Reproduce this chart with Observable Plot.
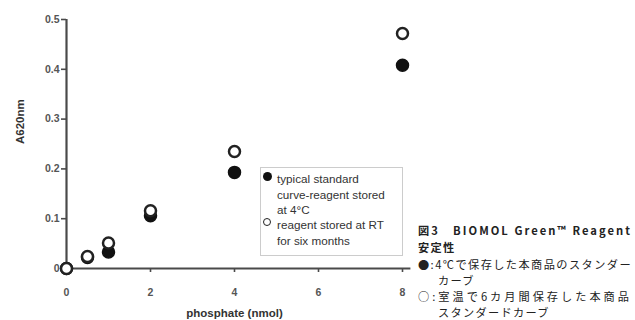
<!DOCTYPE html>
<html><head><meta charset="utf-8">
<script src="https://cdn.jsdelivr.net/npm/d3@7"></script>
<script src="https://cdn.jsdelivr.net/npm/@observablehq/plot@0.6"></script>
<style>
body{margin:0;background:#fff;}
#wrap{position:relative;width:635px;height:320px;overflow:hidden;}
#legend{position:absolute;left:260px;top:167px;width:143px;height:89px;border:1px solid #ccc;box-sizing:border-box;}
.lt{position:absolute;white-space:nowrap;font-family:"Liberation Sans",Arial,sans-serif;font-size:11.7px;color:#333;line-height:11px;height:11px;}
.lm{position:absolute;width:8px;height:8px;border-radius:50%;box-sizing:border-box;}
.ct{position:absolute;white-space:nowrap;font-family:"Noto Sans CJK JP","Noto Sans",sans-serif;font-size:11.2px;color:#222;line-height:14px;height:14px;}
</style></head>
<body><div id="wrap"><div id="chart"></div>
<div id="legend"></div>
</div>
<script>
const xVals = [0, 0.5, 1, 2, 4, 8];
const stored4C = [0, 0.022, 0.033, 0.106, 0.193, 0.408];
const storedRT = [0, 0.024, 0.051, 0.116, 0.235, 0.472];
const xTicks = [0, 2, 4, 6, 8];
const yTicks = [0, 0.1, 0.2, 0.3, 0.4, 0.5];
const legendLabels = [["typical standard","curve-reagent stored","at 4°C"],["reagent stored at RT","for six months"]];
const captionLines = ["図3　BIOMOL Green™ Reagent","安定性","●:4℃で保存した本商品のスタンダー","カーブ","○:室温で6カ月間保存した本商品","スタンダードカーブ"];

const filled = xVals.map((x,i)=>({x, y: stored4C[i]}));
const open = xVals.map((x,i)=>({x, y: storedRT[i]}));
const axisColor = "#4a4a4a";
const font = "'Liberation Sans', Arial, sans-serif";

const chart = Plot.plot({
  width: 635, height: 320,
  marginLeft: 66, marginRight: 233, marginTop: 19, marginBottom: 52,
  style: {fontFamily: font, background: "white"},
  x: {domain: [0, 8]},
  y: {domain: [0, 0.5]},
  marks: [
    Plot.axisY({ticks: yTicks, tickSize: 5, tickPadding: 2, stroke: axisColor, strokeWidth: 1.6,
      tickFormat: d => d === 0 ? "0" : d.toFixed(1), fontSize: 10.5, fontWeight: "bold", fill: "#555", label: null}),
    Plot.axisX({ticks: xTicks, tickSize: 4, tickPadding: 16, stroke: axisColor, strokeWidth: 1.6,
      fontSize: 10.5, fontWeight: "bold", fill: "#555", label: null}),
    Plot.ruleX([0], {y1: 0, y2: 0.5, stroke: axisColor, strokeWidth: 2.2}),
    Plot.ruleY([0], {x1: 0, x2: 8.2, stroke: axisColor, strokeWidth: 2.2}),
    Plot.text(["A620nm"], {frameAnchor: "left", dx: -46, rotate: -90, fontSize: 11.5, fontWeight: "bold", fill: "#333"}),
    Plot.text(["phosphate (nmol)"], {x: 4, y: 0, dy: 45, fontSize: 11.5, fontWeight: "bold", fill: "#333"}),
    Plot.dot(filled, {x: "x", y: "y", r: 6, fill: "#111", stroke: "#111"}),
    Plot.dot(open, {x: "x", y: "y", r: 5.5, fill: "white", stroke: "#222", strokeWidth: 2.5})
  ]
});
document.getElementById("chart").appendChild(chart);

const wrap = document.getElementById("wrap");
function place(cls, text, left, centerY, lh) {
  const d = document.createElement("div");
  d.className = cls;
  d.textContent = text;
  d.style.left = left + "px";
  d.style.top = (centerY - lh / 2) + "px";
  wrap.appendChild(d);
  return d;
}
function marker(cx, cy, isFilled) {
  const m = document.createElement("div");
  m.className = "lm";
  const s = isFilled ? 9 : 8;
  m.style.width = s + "px"; m.style.height = s + "px";
  m.style.left = (cx - s / 2) + "px";
  m.style.top = (cy - s / 2) + "px";
  if (isFilled) m.style.background = "#111";
  else { m.style.border = "1.6px solid #222"; m.style.background = "#fff"; }
  wrap.appendChild(m);
}

// legend
const legendCenters = [[178, 194.5, 209.5], [224.5, 240.5]];
const markerCenters = [176, 222];
legendLabels.forEach((lines, k) => {
  marker(267, markerCenters[k], k === 0);
  lines.forEach((t, j) => place("lt", t, 277, legendCenters[k][j], 11));
});

// caption
const capCenters = [229.5, 246.5, 263.5, 279.5, 295.5, 311.5];
const capLeft = [418, 418, 418, 438, 418, 438];
const stretchTo = [214, null, 214, null, 214, null];
captionLines.forEach((t, i) => {
  const d = place("ct", t, capLeft[i], capCenters[i], 14);
  if (i < 2) d.style.fontWeight = "bold";
  if (i === 1 || i === 3 || i === 5) d.style.letterSpacing = "1.3px";
  if (stretchTo[i]) {
    d.style.display = "inline-block";
    const w = d.getBoundingClientRect().width;
    const n = [...t].length;
    d.style.letterSpacing = ((stretchTo[i] - w) / n) + "px";
  }
});
</script></body></html>
